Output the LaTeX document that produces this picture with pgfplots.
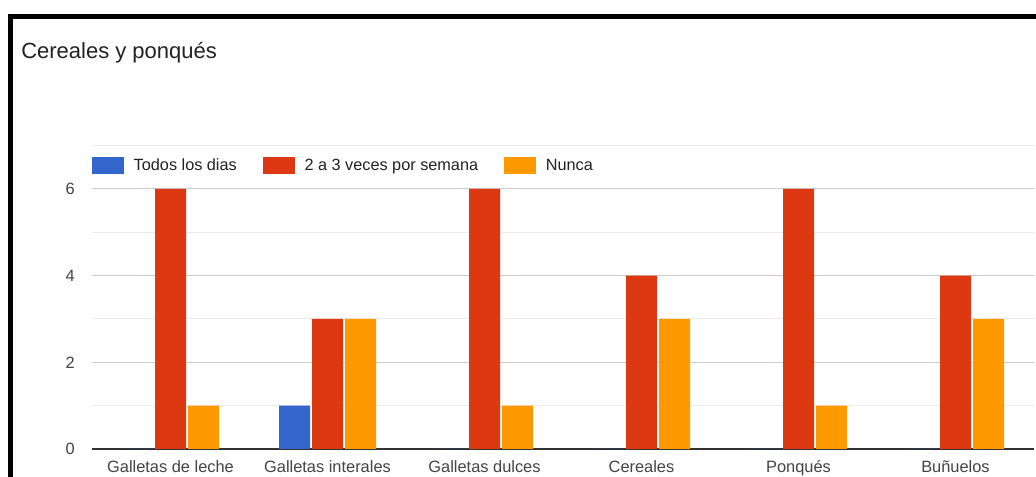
\documentclass[border=0pt]{standalone}
\usepackage{pgfplots}
\pgfplotsset{compat=1.18}
\usepackage{fontspec}
\setmainfont{Liberation Sans}
\definecolor{gblue}{HTML}{3366CC}
\definecolor{gred}{HTML}{DC3912}
\definecolor{gorange}{HTML}{FF9900}
\definecolor{gtext}{HTML}{222222}
\definecolor{gtick}{HTML}{444444}
\definecolor{gmaj}{HTML}{CCCCCC}
\definecolor{gmin}{HTML}{EBEBEB}
\definecolor{gaxis}{HTML}{333333}
\begin{document}
\begin{tikzpicture}
\useasboundingbox (0,0) rectangle (777pt,357.75pt);
\fill[white] (0,0) rectangle (777pt,357.75pt);
\clip (0,0) rectangle (777pt,357.75pt);
\begin{axis}[
  at={(69pt,21pt)}, anchor=south west,
  scale only axis, width=706.5pt, height=227.6pt,
  xmin=-0.5, xmax=5.5, ymin=0, ymax=7,
  xtick={0,1,2,3,4,5},
  xticklabels={Galletas de leche,Galletas interales,Galletas dulces,Cereales,Ponqués,Buñuelos},
  ytick={0,2,4,6}, minor ytick={1,3,5,7},
  ymajorgrids, yminorgrids,
  major grid style={gmaj, line width=0.75pt},
  minor grid style={gmin, line width=0.75pt},
  axis x line*=bottom, axis y line*=left,
  x axis line style={gaxis, line width=1.4pt, -},
  y axis line style={draw=none},
  major tick length=0pt, minor tick length=0pt,
  tick style={draw=none},
  /pgf/number format/assume math mode=true,
  ticklabel style={font=\fontsize{12.3pt}{14pt}\selectfont, text=gtick},
  xticklabel style={anchor=base, inner sep=0pt, yshift=-18pt},
  yticklabel style={anchor=east, inner sep=0pt, xshift=-12.75pt},
  legend columns=3,
  legend style={at={(0,0.934)}, anchor=west, draw=none, fill=none,
    inner sep=0pt, outer sep=0pt,
    font=\fontsize{12.2pt}{14pt}\selectfont, text=gtext,
    nodes={inner sep=0pt, anchor=west},
    /tikz/every odd column/.append style={column sep=7.3pt},
    /tikz/every even column/.append style={column sep=19.5pt}},
]
\addplot[ybar, bar width=23.25pt, bar shift=-24.75pt, fill=gblue, draw=none,
  legend image code/.code={\fill[gblue] (0pt,-6.4pt) rectangle (24pt,6.4pt);}]
  coordinates {(0,0) (1,1) (2,0) (3,0) (4,0) (5,0)};
\addlegendentry{Todos los dias}
\addplot[ybar, bar width=23.25pt, bar shift=0pt, fill=gred, draw=none,
  legend image code/.code={\fill[gred] (0pt,-6.4pt) rectangle (24pt,6.4pt);}]
  coordinates {(0,6) (1,3) (2,6) (3,4) (4,6) (5,4)};
\addlegendentry{2 a 3 veces por semana}
\addplot[ybar, bar width=23.25pt, bar shift=24.75pt, fill=gorange, draw=none,
  legend image code/.code={\fill[gorange] (0pt,-6.4pt) rectangle (24pt,6.4pt);}]
  coordinates {(0,1) (1,3) (2,1) (3,3) (4,1) (5,3)};
\addlegendentry{Nunca}
\end{axis}
\node[anchor=base west, inner sep=0pt, text=gtext, font=\fontsize{16.5pt}{19pt}\selectfont] at (15.75pt,313.5pt) {Cereales y ponqués};
\draw[line width=3.75pt, black, miter limit=10] (7.875pt,-5pt) -- (7.875pt,345.375pt) -- (790pt,345.375pt);
\end{tikzpicture}
\end{document}
